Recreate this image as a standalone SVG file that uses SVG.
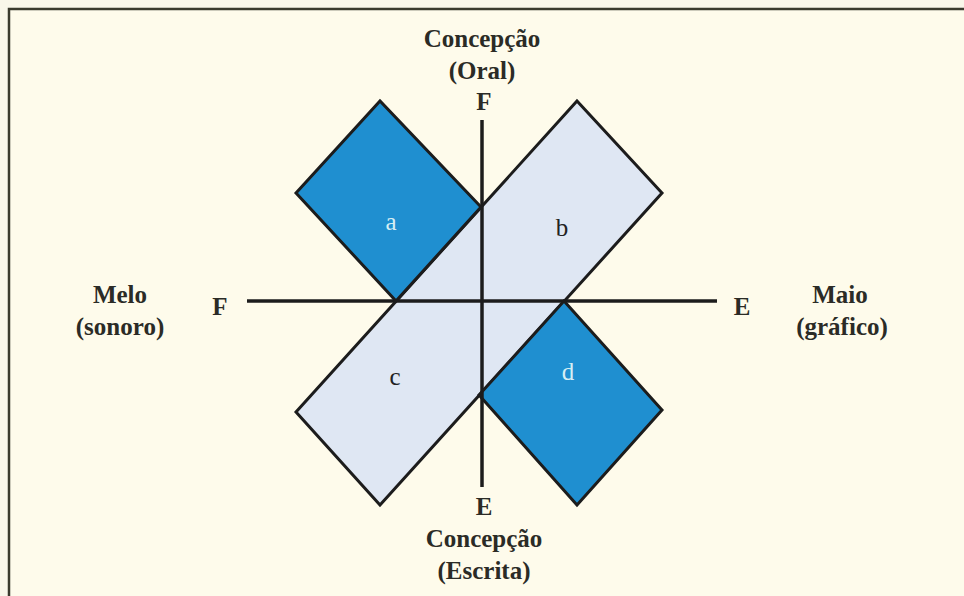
<svg xmlns="http://www.w3.org/2000/svg" width="964" height="596" viewBox="0 0 964 596">
<style>
.t{font-family:"Liberation Serif","Times New Roman",serif;font-size:25px;font-weight:bold;fill:#2b2b26;text-anchor:middle}
.lbl{font-family:"Liberation Serif","Times New Roman",serif;font-size:25px;text-anchor:middle}
.sh{stroke:#1c1c1c;stroke-width:3;stroke-linejoin:miter}
.ax{stroke:#1c1c1c;stroke-width:3.5}
</style>
<rect x="0" y="0" width="964" height="596" fill="#f9f7ea"/>
<rect x="9" y="9" width="960" height="592" fill="#fefbeb" stroke="#3a3a2e" stroke-width="2.5"/>
<g id="strip">
<polygon class="sh" points="577,101 662,193 380,505 296,412" fill="#dfe7f3"/>
</g>
<g id="node-a">
<polygon class="sh" points="296,193 380,101 481,207 396,301" fill="#1f8fd0"/>
<text class="lbl" x="391" y="230" fill="#d6eef4">a</text>
</g>
<g id="node-b">
<text class="lbl" x="562" y="236" fill="#222">b</text>
</g>
<g id="node-c">
<text class="lbl" x="395" y="385" fill="#222">c</text>
</g>
<g id="node-d">
<polygon class="sh" points="564,301 662,410 577,505 479,395" fill="#1f8fd0"/>
<text class="lbl" x="568" y="380" fill="#d6eef4">d</text>
</g>
<g id="connectors">
<line class="ax" x1="482" y1="120" x2="482" y2="487"/>
<line class="ax" x1="247" y1="301" x2="717" y2="301"/>
</g>
<g id="label-top">
<text class="t" x="482" y="47">Concepção</text>
<text class="t" x="482" y="79">(Oral)</text>
<text class="t" x="484" y="110">F</text>
</g>
<g id="label-left">
<text class="t" x="120" y="303">Melo</text>
<text class="t" x="120" y="335">(sonoro)</text>
<text class="t" x="220" y="315">F</text>
</g>
<g id="label-right">
<text class="t" x="742" y="315">E</text>
<text class="t" x="840" y="303">Maio</text>
<text class="t" x="842" y="335">(gráfico)</text>
</g>
<g id="label-bottom">
<text class="t" x="484" y="515">E</text>
<text class="t" x="484" y="547">Concepção</text>
<text class="t" x="484" y="579">(Escrita)</text>
</g>
</svg>
